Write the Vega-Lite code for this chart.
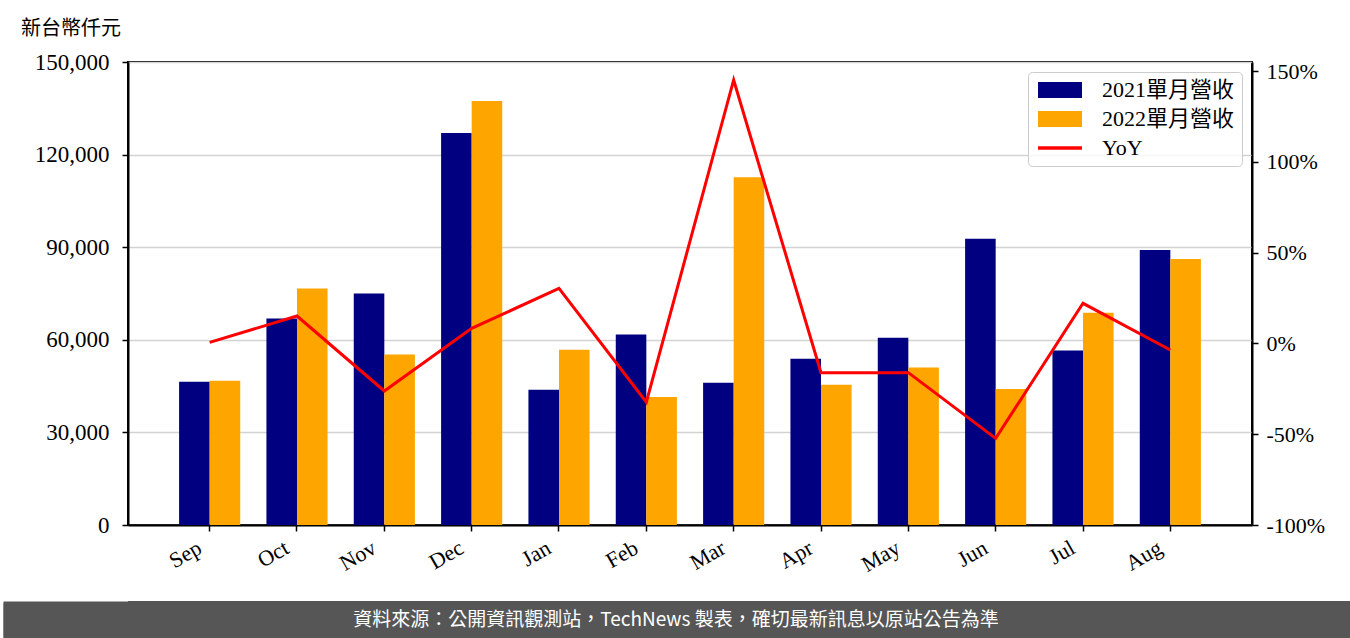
{
  "$schema": "https://vega.github.io/schema/vega-lite/v6.json",
  "padding": {"left": 0, "right": 0, "top": 18, "bottom": 0},
  "spacing": 0,
  "background": "white",
  "resolve": {"scale": {"color": "independent", "y": "independent"}, "legend": {"color": "independent"}},
  "datasets": {
    "rev": [
      {"month": "Sep", "series": "2021單月營收", "value": 46400},
      {"month": "Sep", "series": "2022單月營收", "value": 46700},
      {"month": "Oct", "series": "2021單月營收", "value": 66900},
      {"month": "Oct", "series": "2022單月營收", "value": 76600},
      {"month": "Nov", "series": "2021單月營收", "value": 75000},
      {"month": "Nov", "series": "2022單月營收", "value": 55200},
      {"month": "Dec", "series": "2021單月營收", "value": 127000},
      {"month": "Dec", "series": "2022單月營收", "value": 137400},
      {"month": "Jan", "series": "2021單月營收", "value": 43800},
      {"month": "Jan", "series": "2022單月營收", "value": 56800},
      {"month": "Feb", "series": "2021單月營收", "value": 61700},
      {"month": "Feb", "series": "2022單月營收", "value": 41500},
      {"month": "Mar", "series": "2021單月營收", "value": 46100},
      {"month": "Mar", "series": "2022單月營收", "value": 112700},
      {"month": "Apr", "series": "2021單月營收", "value": 53900},
      {"month": "Apr", "series": "2022單月營收", "value": 45400},
      {"month": "May", "series": "2021單月營收", "value": 60700},
      {"month": "May", "series": "2022單月營收", "value": 51000},
      {"month": "Jun", "series": "2021單月營收", "value": 92700},
      {"month": "Jun", "series": "2022單月營收", "value": 44100},
      {"month": "Jul", "series": "2021單月營收", "value": 56500},
      {"month": "Jul", "series": "2022單月營收", "value": 68800},
      {"month": "Aug", "series": "2021單月營收", "value": 89100},
      {"month": "Aug", "series": "2022單月營收", "value": 86200}
    ],
    "yoy": [
      {"month": "Sep", "series": "YoY", "yoy": 0.6},
      {"month": "Oct", "series": "YoY", "yoy": 15.1},
      {"month": "Nov", "series": "YoY", "yoy": -26.2},
      {"month": "Dec", "series": "YoY", "yoy": 8.3},
      {"month": "Jan", "series": "YoY", "yoy": 30.3},
      {"month": "Feb", "series": "YoY", "yoy": -32.4},
      {"month": "Mar", "series": "YoY", "yoy": 145.1},
      {"month": "Apr", "series": "YoY", "yoy": -16.1},
      {"month": "May", "series": "YoY", "yoy": -16.1},
      {"month": "Jun", "series": "YoY", "yoy": -52.3},
      {"month": "Jul", "series": "YoY", "yoy": 22.1},
      {"month": "Aug", "series": "YoY", "yoy": -3.6}
    ],
    "footer": [
      {"t": "資料來源：公開資訊觀測站，TechNews 製表，確切最新訊息以原站公告為準"}
    ]
  },
  "vconcat": [
    {
      "width": 1124,
      "height": 463,
      "title": {
        "text": "新台幣仟元",
        "anchor": "start",
        "frame": "bounds",
        "fontSize": 20,
        "font": "Noto Sans CJK TC",
        "fontWeight": "normal",
        "color": "black",
        "offset": 12,
        "dx": 20
      },
      "view": {"stroke": "black", "strokeWidth": 2},
      "layer": [
        {
          "data": {"name": "rev"},
          "mark": {"type": "bar"},
          "encoding": {
            "x": {
              "field": "month",
              "type": "nominal",
              "sort": ["Sep", "Oct", "Nov", "Dec", "Jan", "Feb", "Mar", "Apr", "May", "Jun", "Jul", "Aug"],
              "scale": {"paddingInner": 0.3, "paddingOuter": 0.585},
              "axis": {
                "title": null,
                "labelAngle": -30,
                "labelAlign": "right",
                "labelBaseline": "top",
                "labelOffset": -15,
                "labelPadding": 6,
                "labelFont": "Liberation Serif",
                "labelFontSize": 22,
                "labelColor": "black",
                "tickColor": "black",
                "tickSize": 6,
                "tickWidth": 1.5,
                "domainColor": "black",
                "domainWidth": 2,
                "grid": false,
                "minExtent": 75,
                "maxExtent": 75
              }
            },
            "xOffset": {"field": "series", "type": "nominal"},
            "y": {
              "field": "value",
              "type": "quantitative",
              "scale": {"domain": [0, 150000], "nice": false},
              "axis": {
                "title": null,
                "values": [0, 30000, 60000, 90000, 120000, 150000],
                "format": ",.0f",
                "labelFont": "Liberation Serif",
                "labelFontSize": 23,
                "labelColor": "black",
                "labelPadding": 13,
                "tickColor": "black",
                "tickSize": 6,
                "tickWidth": 1.5,
                "domainColor": "black",
                "domainWidth": 2,
                "grid": true,
                "gridColor": "#d3d3d3",
                "gridWidth": 1.5,
                "minExtent": 127,
                "maxExtent": 127
              }
            },
            "color": {
              "field": "series",
              "type": "nominal",
              "scale": {
                "domain": ["2021單月營收", "2022單月營收", "YoY"],
                "range": ["#000080", "#FFA500", "#FF0000"]
              },
              "legend": {
                "title": null,
                "orient": "top-right",
                "offset": 10,
                "labelFont": "Liberation Serif, Noto Sans CJK TC",
                "labelFontSize": 22,
                "labelColor": "black",
                "labelOffset": 31,
                "symbolSize": 256,
                "symbolOffset": 14,
                "symbolStrokeWidth": 0,
                "padding": 7,
                "rowPadding": 7,
                "fillColor": "rgba(255,255,255,0.8)",
                "strokeColor": "#cccccc",
                "cornerRadius": 4,
                "encode": {
                  "symbols": {
                    "update": {
                      "shape": {"signal": "datum.value === 'YoY' ? 'M-2.75,-0.22H2.75V0.22H-2.75Z' : 'M-2.75,-1H2.75V1H-2.75Z'"},
                      "fill": {"scale": "color", "field": "value"},
                      "strokeWidth": {"value": 0},
                      "opacity": {"value": 1}
                    }
                  }
                }
              }
            }
          }
        },
        {
          "data": {"name": "yoy"},
          "mark": {"type": "line", "strokeWidth": 3},
          "encoding": {
            "x": {
              "field": "month",
              "type": "nominal",
              "sort": ["Sep", "Oct", "Nov", "Dec", "Jan", "Feb", "Mar", "Apr", "May", "Jun", "Jul", "Aug"]
            },
            "y": {
              "field": "yoy",
              "type": "quantitative",
              "scale": {"domain": [-100, 155], "nice": false},
              "axis": {
                "orient": "right",
                "title": null,
                "values": [-100, -50, 0, 50, 100, 150],
                "labelExpr": "datum.value + '%'",
                "labelFont": "Liberation Serif",
                "labelFontSize": 22,
                "labelColor": "black",
                "labelPadding": 8,
                "tickColor": "black",
                "tickSize": 6,
                "tickWidth": 1.5,
                "domainColor": "black",
                "domainWidth": 2,
                "grid": false,
                "minExtent": 99,
                "maxExtent": 99
              }
            },
            "color": {"field": "series", "type": "nominal"}
          }
        }
      ],
      "resolve": {"scale": {"y": "independent"}}
    },
    {
      "width": 1223,
      "height": 38,
      "view": {"fill": "#565656", "stroke": null},
      "data": {"name": "footer"},
      "mark": {"type": "text", "font": "Noto Sans CJK TC", "fontSize": 19, "color": "white", "dx": -63.5},
      "encoding": {
        "text": {"field": "t", "type": "nominal"},
        "y": {
          "datum": 19,
          "type": "quantitative",
          "scale": {"domain": [0, 38], "nice": false},
          "axis": {
            "title": null,
            "values": [2, 4, 6, 8, 10, 12, 14, 16, 18, 20, 22, 24, 26, 28, 30, 32, 34, 36],
            "labels": false,
            "domain": false,
            "grid": false,
            "ticks": true,
            "tickSize": 125,
            "tickWidth": 4,
            "tickColor": "#565656",
            "tickCap": "butt",
            "tickOpacity": 1,
            "minExtent": 127,
            "maxExtent": 127
          }
        }
      }
    }
  ]
}
